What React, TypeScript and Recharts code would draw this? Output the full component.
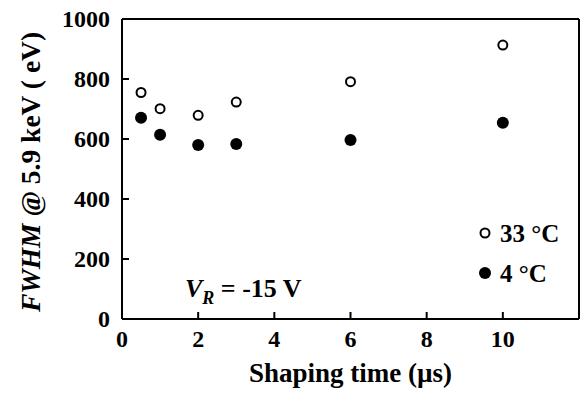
import { ScatterChart, Scatter, XAxis, YAxis } from "recharts"

const shapingTimes = [0.5, 1, 2, 3, 6, 10]
const fwhm33 = [755, 701, 679, 723, 791, 913]
const fwhm4 = [671, 614, 580, 583, 597, 654]

const xTicks = [0, 2, 4, 6, 8, 10, 12]
const yTicks = [0, 200, 400, 600, 800, 1000]
const xMax = 12
const yMax = 1000

const series = [
  { name: "33 °C", values: fwhm33, open: true },
  { name: "4 °C", values: fwhm4, open: false },
]

const FONT = '"Liberation Serif", "Times New Roman", serif'
const W = 581
const H = 393
const M = { top: 19, right: 2, left: 122, bottom: 74 }

const openDot = (p: any) => (
  <circle cx={p.cx} cy={p.cy} r={4.5} fill="#fff" stroke="#000" strokeWidth={2} />
)
const filledDot = (p: any) => <circle cx={p.cx} cy={p.cy} r={6} fill="#000" />

const axisStroke = { stroke: "#000", strokeWidth: 2 }

function BottomTick({ x, y, payload }: any) {
  if (payload.value > 10) return null
  return (
    <text x={x} y={y + 16} textAnchor="middle" fontFamily={FONT} fontWeight={700} fontSize={24} fill="#000">
      {payload.value}
    </text>
  )
}

function LeftTick({ x, y, payload }: any) {
  return (
    <text x={x} y={y + 8} textAnchor="end" fontFamily={FONT} fontWeight={700} fontSize={24} fill="#000">
      {payload.value}
    </text>
  )
}

function XLabel({ viewBox }: any) {
  const { x, y, width } = viewBox
  return (
    <text x={x + width / 2} y={y + 63} textAnchor="middle" fontFamily={FONT} fontWeight={700} fontSize={27} fill="#000">
      Shaping time (µs)
    </text>
  )
}

function YLabel({ viewBox }: any) {
  const { y, height } = viewBox
  const cx = 40
  const cy = y + height / 2 + 3
  return (
    <text x={cx} y={cy} transform={`rotate(-90 ${cx} ${cy})`} textAnchor="middle" fontFamily={FONT} fontWeight={700} fontSize={27.5} fill="#000">
      <tspan fontStyle="italic">FWHM</tspan> @ 5.9 keV ( eV)
    </text>
  )
}

export default function App() {
  return (
    <div style={{ position: "absolute", left: 0, top: 0, width: W, height: H, background: "#fff" }}>
      <ScatterChart width={W} height={H} margin={{ top: M.top - 1, right: M.right - 1, bottom: 0, left: 0 }}>
        <XAxis
          xAxisId="b"
          type="number"
          dataKey="x"
          domain={[0, xMax]}
          ticks={xTicks}
          interval={0}
          allowDataOverflow
          height={M.bottom}
          tickSize={-7}
          tickMargin={19}
          tick={<BottomTick />}
          axisLine={axisStroke}
          tickLine={axisStroke}
          label={<XLabel />}
        />
        <XAxis
          xAxisId="t"
          orientation="top"
          type="number"
          dataKey="x"
          domain={[0, xMax]}
          ticks={xTicks}
          interval={0}
          allowDataOverflow
          height={1}
          tickSize={-7}
          tick={false}
          axisLine={axisStroke}
          tickLine={axisStroke}
        />
        <YAxis
          yAxisId="l"
          type="number"
          dataKey="y"
          domain={[0, yMax]}
          ticks={yTicks}
          interval={0}
          width={M.left}
          tickSize={-7}
          tickMargin={19}
          tick={<LeftTick />}
          axisLine={axisStroke}
          tickLine={axisStroke}
          label={<YLabel />}
        />
        <YAxis
          yAxisId="r"
          orientation="right"
          type="number"
          dataKey="y"
          domain={[0, yMax]}
          ticks={yTicks}
          interval={0}
          width={1}
          tickSize={-7}
          tick={false}
          axisLine={axisStroke}
          tickLine={axisStroke}
        />
        {series.map((s) => (
          <Scatter
            key={s.name}
            name={s.name}
            xAxisId="b"
            yAxisId="l"
            data={shapingTimes.map((x, i) => ({ x, y: s.values[i] }))}
            shape={s.open ? openDot : filledDot}
            isAnimationActive={false}
          />
        ))}
      </ScatterChart>
      <svg style={{ position: "absolute", left: 0, top: 0, pointerEvents: "none" }} width={W} height={H}>
        <text x={185} y={297} fontFamily={FONT} fontWeight={700} fontSize={26} fill="#000">
          <tspan fontStyle="italic">V</tspan>
          <tspan fontStyle="italic" fontSize={18} dy={7}>R</tspan>
          <tspan dy={-7}> = -15 V</tspan>
        </text>
        {series.map((s, i) => (
          <g key={s.name}>
            {s.open ? (
              <circle cx={485} cy={233 + i * 40} r={4.5} fill="#fff" stroke="#000" strokeWidth={2} />
            ) : (
              <circle cx={485} cy={233 + i * 40} r={6} fill="#000" />
            )}
            <text x={500} y={242 + i * 40} fontFamily={FONT} fontWeight={700} fontSize={25} fill="#000">
              {s.name}
            </text>
          </g>
        ))}
      </svg>
    </div>
  )
}
